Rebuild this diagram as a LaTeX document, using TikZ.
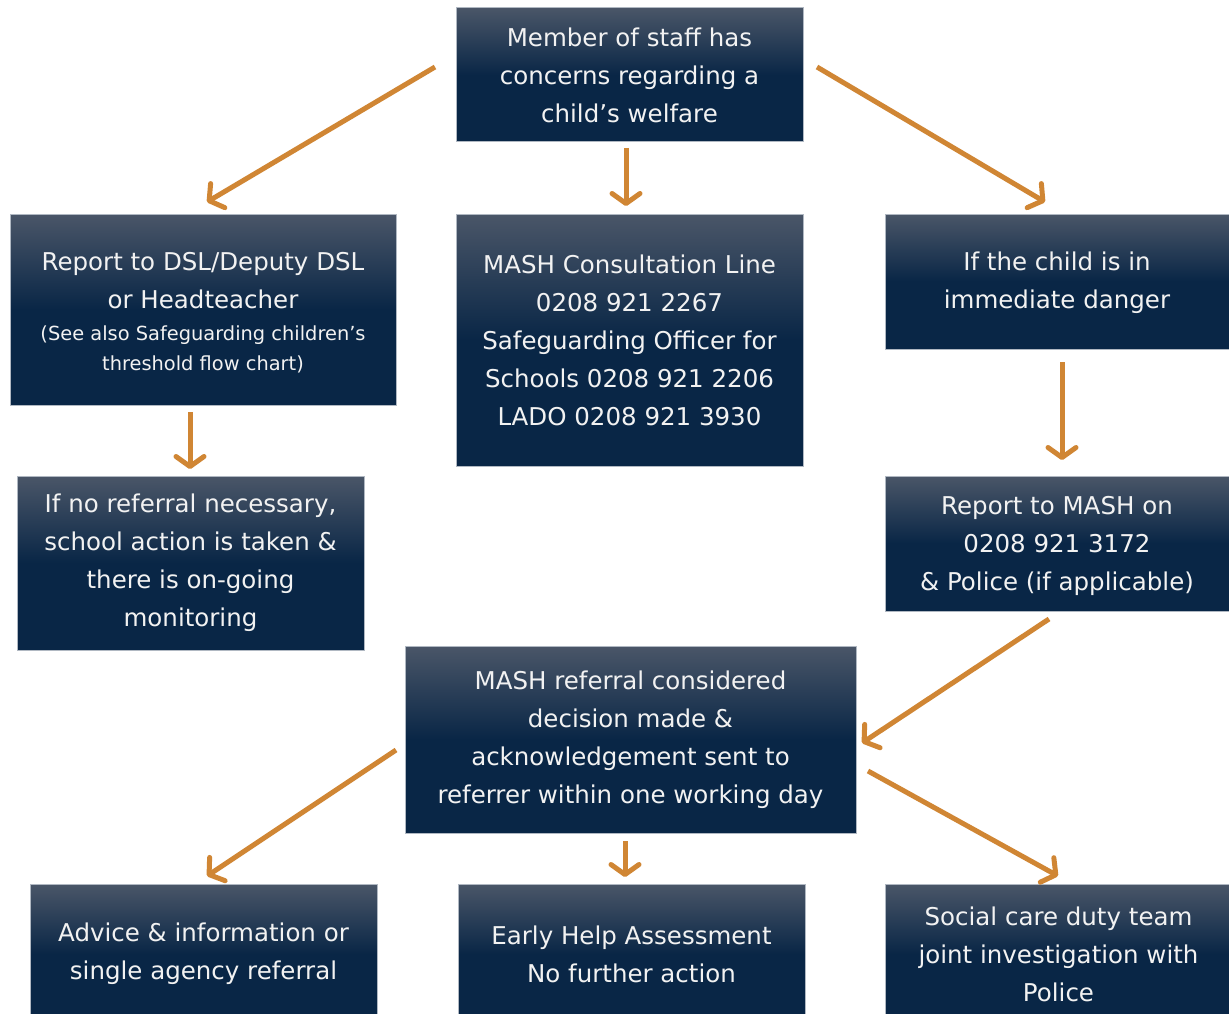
\documentclass[tikz,border=0pt]{standalone}
\usepackage{fontspec}
\setmainfont{DejaVu Sans}
\usetikzlibrary{arrows.meta}
\definecolor{boxtop}{RGB}{74,86,104}
\definecolor{boxbot}{RGB}{9,38,70}
\definecolor{boxedge}{RGB}{176,184,194}
\definecolor{arrowc}{RGB}{208,134,52}
\definecolor{txt}{RGB}{242,242,242}
\tikzset{
  flowbox/.style={rectangle, draw=boxedge, line width=1pt, top color=boxtop, bottom color=boxbot, middle color=boxbot,
    text=txt, align=center, inner sep=0pt, font=\fontsize{24.5}{38}\selectfont},
  boxtext/.style={text=txt, align=center, inner sep=0pt, font=\fontsize{24.5}{38}\selectfont},
  flowarrow/.style={draw=arrowc, line width=5pt, -{Straight Barb[length=10pt,width=28pt,round]}}
}
\begin{document}
\begin{tikzpicture}[x=1pt,y=-1pt]
\clip (0,0) rectangle (1229,1014);
\fill[white] (0,0) rectangle (1229,1014);

\node[flowbox, minimum width=347pt, minimum height=134pt] (top) at (629.5,75) {Member of staff has\\concerns regarding a\\child’s welfare};
\node[flowbox, minimum width=386pt, minimum height=191pt] (dsl) at (203,309.5) {};
\node[boxtext] (dsltxt) at (203,281) {Report to DSL/Deputy DSL\\or Headteacher};
\node[boxtext, font=\fontsize{19.4}{30}\selectfont] (dslsub) at (203,349) {(See also Safeguarding children’s\\threshold flow chart)};
\node[flowbox, minimum width=347pt, minimum height=252pt] (mash) at (629.5,340) {MASH Consultation Line\\0208 921 2267\\Safeguarding Officer for\\Schools 0208 921 2206\\LADO 0208 921 3930};
\node[flowbox, minimum width=347pt, minimum height=135pt] (danger) at (1058.5,281.5) {};
\node[boxtext] (dangertxt) at (1057,283) {If the child is in\\immediate danger};
\node[flowbox, minimum width=347pt, minimum height=174pt] (noref) at (190.5,563) {If no referral necessary,\\school action is taken \&\\there is on-going\\monitoring};
\node[flowbox, minimum width=347pt, minimum height=135pt] (report) at (1058.5,543.5) {};
\node[boxtext] (reporttxt) at (1057,546) {Report to MASH on\\0208 921 3172\\\& Police (if applicable)};
\node[flowbox, minimum width=451pt, minimum height=187pt] (referral) at (630.5,739.5) {MASH referral considered\\decision made \&\\acknowledgement sent to\\referrer within one working day};
\node[flowbox, minimum width=347pt, minimum height=140pt] (advice) at (203.5,954) {Advice \& information or\\single agency referral};
\node[flowbox, minimum width=347pt, minimum height=140pt] (early) at (631.5,954) {Early Help Assessment\\No further action};
\node[flowbox, minimum width=347pt, minimum height=140pt] (social) at (1058.5,954) {Social care duty team\\joint investigation with\\Police};

\coordinate (a1s) at (435,67);   \coordinate (a1e) at (207,202);
\coordinate (a2s) at (626,148);  \coordinate (a2e) at (626,206);
\coordinate (a3s) at (817,67);   \coordinate (a3e) at (1045,202);
\coordinate (a4s) at (190,412);  \coordinate (a4e) at (190,469);
\coordinate (a5s) at (1062,362); \coordinate (a5e) at (1062,460);
\coordinate (a6s) at (1049,619); \coordinate (a6e) at (862,743);
\coordinate (a7s) at (396,750);  \coordinate (a7e) at (207,876);
\coordinate (a8s) at (625,841);  \coordinate (a8e) at (625,877);
\coordinate (a9s) at (868,771);  \coordinate (a9e) at (1058,876);

\draw[flowarrow] (a1s) -- (a1e);
\draw[flowarrow] (a2s) -- (a2e);
\draw[flowarrow] (a3s) -- (a3e);
\draw[flowarrow] (a4s) -- (a4e);
\draw[flowarrow] (a5s) -- (a5e);
\draw[flowarrow] (a6s) -- (a6e);
\draw[flowarrow] (a7s) -- (a7e);
\draw[flowarrow] (a8s) -- (a8e);
\draw[flowarrow] (a9s) -- (a9e);
\end{tikzpicture}
\end{document}
